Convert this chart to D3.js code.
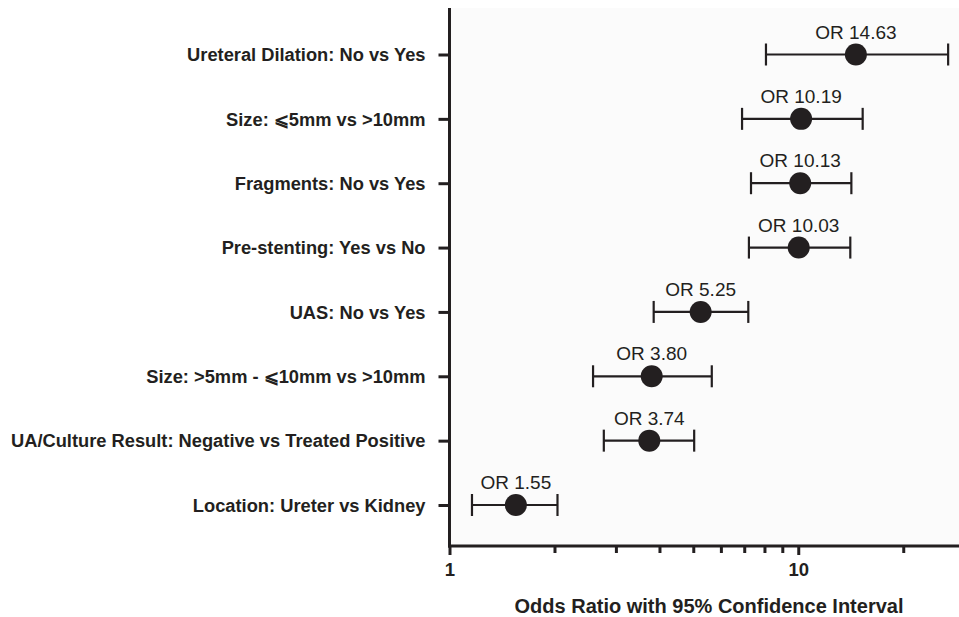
<!DOCTYPE html>
<html><head><meta charset="utf-8">
<script src="https://cdn.jsdelivr.net/npm/d3@7/dist/d3.min.js"></script>
<style>
html,body{margin:0;padding:0;background:#fff;}
svg{display:block;font-family:"Liberation Sans",Arial,Helvetica,sans-serif;}
</style></head>
<body>
<svg id="chart" width="959" height="617"></svg>
<script>
const categories = [
  "Ureteral Dilation: No vs Yes",
  "Size: \u2A7D5mm vs >10mm",
  "Fragments: No vs Yes",
  "Pre-stenting: Yes vs No",
  "UAS: No vs Yes",
  "Size: >5mm - \u2A7D10mm vs >10mm",
  "UA/Culture Result: Negative vs Treated Positive",
  "Location: Ureter vs Kidney"
];
const orValues = [14.63, 10.19, 10.13, 10.03, 5.25, 3.80, 3.74, 1.55];
const ciLower  = [8.08, 6.90, 7.32, 7.22, 3.85, 2.58, 2.77, 1.16];
const ciUpper  = [26.9, 15.3, 14.2, 14.1, 7.19, 5.65, 5.03, 2.04];
const majorTicks = [1, 10];
const minorTicks = [2, 3, 4, 5, 6, 7, 8, 9, 20];
const xTitle = "Odds Ratio with 95% Confidence Interval";

(function () {
const ink = "#231f20";
const svg = d3.select("#chart");
const pLeft = 449.5, pRight = 959, pTop = 8, pBottom = 546;

const x = d3.scaleLog().domain([1, 28.9]).range([pLeft, pRight]);
const y = d3.scalePoint().domain(categories).range([54.5, 505]);

// panel background
svg.append("rect").attr("x", pLeft).attr("y", pTop)
  .attr("width", pRight - pLeft).attr("height", pBottom - pTop)
  .attr("fill", "#fbfbfb");

// y axis
const yAxis = d3.axisLeft(y).tickSize(11).tickPadding(13).tickSizeOuter(0);
const gy = svg.append("g").attr("transform", `translate(${pLeft},0)`).call(yAxis);
gy.select(".domain").remove();
gy.selectAll(".tick line").attr("stroke", ink).attr("stroke-width", 3);
gy.selectAll(".tick text").attr("fill", ink).attr("font-size", 18.3)
  .attr("font-weight", "bold").attr("dy", "0.34em");
svg.append("line").attr("x1", pLeft).attr("x2", pLeft).attr("y1", pTop).attr("y2", pBottom + 1.5)
  .attr("stroke", ink).attr("stroke-width", 3);

// x axis
const gxMinor = svg.append("g").attr("transform", `translate(0,${pBottom})`)
  .call(d3.axisBottom(x).tickValues(minorTicks).tickSize(7).tickFormat(""));
gxMinor.select(".domain").remove();
gxMinor.selectAll(".tick line").attr("stroke", ink).attr("stroke-width", 3);
const gxMajor = svg.append("g").attr("transform", `translate(0,${pBottom})`)
  .call(d3.axisBottom(x).tickValues(majorTicks).tickSize(9).tickPadding(8).tickFormat(d3.format("d")));
gxMajor.select(".domain").remove();
gxMajor.selectAll(".tick line").attr("stroke", ink).attr("stroke-width", 3);
gxMajor.selectAll(".tick text").attr("fill", ink).attr("font-size", 18.5).attr("font-weight", "bold");
svg.append("line").attr("x1", pLeft - 1.5).attr("x2", pRight).attr("y1", pBottom).attr("y2", pBottom)
  .attr("stroke", ink).attr("stroke-width", 3);

// title
svg.append("text").attr("x", 709).attr("y", 613).attr("text-anchor", "middle")
  .attr("font-size", 20).attr("font-weight", "bold").attr("fill", ink).text(xTitle);

// data rows
const rows = categories.map((c, i) => ({c, or: orValues[i], lo: ciLower[i], hi: ciUpper[i]}));
const g = svg.append("g");
const row = g.selectAll("g.row").data(rows).join("g").attr("class", "row");
row.append("line").attr("x1", d => x(d.lo)).attr("x2", d => x(d.hi))
  .attr("y1", d => y(d.c)).attr("y2", d => y(d.c)).attr("stroke", ink).attr("stroke-width", 2.2);
row.append("line").attr("x1", d => x(d.lo)).attr("x2", d => x(d.lo))
  .attr("y1", d => y(d.c) - 11).attr("y2", d => y(d.c) + 11).attr("stroke", ink).attr("stroke-width", 2.2);
row.append("line").attr("x1", d => x(d.hi)).attr("x2", d => x(d.hi))
  .attr("y1", d => y(d.c) - 11).attr("y2", d => y(d.c) + 11).attr("stroke", ink).attr("stroke-width", 2.2);
row.append("circle").attr("cx", d => x(d.or)).attr("cy", d => y(d.c)).attr("r", 11).attr("fill", ink);
row.append("text").attr("x", d => x(d.or)).attr("y", d => y(d.c) - 16)
  .attr("text-anchor", "middle").attr("font-size", 19).attr("fill", ink)
  .text(d => "OR " + d.or.toFixed(2));
})();
</script>
</body></html>
